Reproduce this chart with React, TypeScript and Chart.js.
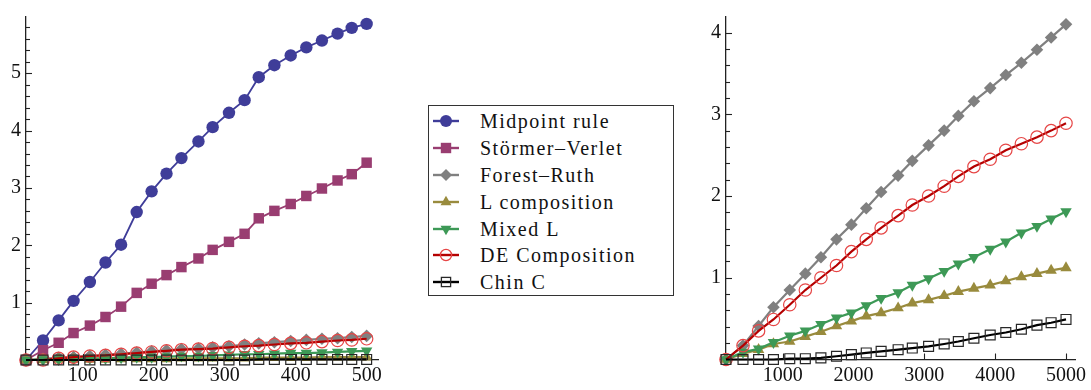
import React, { useEffect, useRef } from "react";
import { Chart, registerables } from "chart.js";
Chart.register(...registerables);

// ---------- data ----------
const LEFT_N = [20, 44, 66, 87, 110, 132, 154, 176, 197, 218, 239, 263, 283, 306, 328, 348, 370, 393, 415, 437, 459, 479, 500];
const RIGHT_N = [200, 440, 660, 870, 1100, 1320, 1540, 1760, 1970, 2180, 2390, 2630, 2830, 3060, 3280, 3480, 3700, 3930, 4150, 4370, 4590, 4790, 5000];

const LEFT_MIDPOINT = [0, 0.34, 0.69, 1.03, 1.36, 1.7, 2.01, 2.58, 2.94, 3.25, 3.52, 3.81, 4.06, 4.31, 4.53, 4.93, 5.14, 5.31, 5.45, 5.57, 5.69, 5.79, 5.86];
const LEFT_STORMER = [0, 0.17, 0.3, 0.47, 0.6, 0.75, 0.93, 1.17, 1.33, 1.48, 1.62, 1.77, 1.92, 2.06, 2.2, 2.47, 2.6, 2.72, 2.86, 2.99, 3.13, 3.24, 3.44];
const LEFT_FOREST = [0, 0.02, 0.04, 0.05, 0.07, 0.09, 0.11, 0.13, 0.15, 0.17, 0.19, 0.2, 0.22, 0.24, 0.27, 0.29, 0.31, 0.33, 0.35, 0.37, 0.38, 0.4, 0.42];
const LEFT_LCOMP = [0, 0, 0.01, 0.01, 0.01, 0.01, 0.02, 0.02, 0.02, 0.02, 0.03, 0.03, 0.03, 0.03, 0.03, 0.04, 0.04, 0.04, 0.04, 0.05, 0.05, 0.05, 0.05];
const LEFT_MIXED = [0, 0.01, 0.01, 0.02, 0.03, 0.03, 0.04, 0.05, 0.05, 0.06, 0.07, 0.07, 0.08, 0.09, 0.1, 0.1, 0.11, 0.12, 0.12, 0.13, 0.14, 0.15, 0.16];
const LEFT_DE = [0, 0, 0.03, 0.05, 0.07, 0.08, 0.1, 0.12, 0.14, 0.16, 0.18, 0.19, 0.2, 0.22, 0.24, 0.25, 0.27, 0.29, 0.3, 0.32, 0.34, 0.35, 0.37];
const LEFT_CHIN = [0, 0, 0, 0, 0, 0, 0, 0, 0, 0, 0, 0, 0, 0, 0, 0.01, 0.01, 0.01, 0.01, 0.01, 0.01, 0.01, 0.01];

const RIGHT_FOREST = [0, 0.17, 0.41, 0.64, 0.85, 1.05, 1.25, 1.47, 1.65, 1.85, 2.05, 2.25, 2.43, 2.62, 2.8, 2.98, 3.16, 3.32, 3.48, 3.63, 3.79, 3.94, 4.1];
const RIGHT_LCOMP = [0, 0.07, 0.12, 0.19, 0.22, 0.28, 0.34, 0.41, 0.47, 0.53, 0.57, 0.63, 0.69, 0.73, 0.78, 0.83, 0.87, 0.91, 0.96, 1.01, 1.05, 1.09, 1.12];
const RIGHT_MIXED = [0, 0.09, 0.13, 0.21, 0.29, 0.35, 0.43, 0.51, 0.57, 0.66, 0.75, 0.82, 0.91, 0.99, 1.08, 1.17, 1.25, 1.35, 1.44, 1.55, 1.63, 1.72, 1.81];
const RIGHT_DE = [0, 0.17, 0.35, 0.49, 0.67, 0.85, 1.0, 1.15, 1.32, 1.47, 1.61, 1.76, 1.89, 2.0, 2.12, 2.24, 2.36, 2.45, 2.56, 2.64, 2.72, 2.8, 2.89];
const RIGHT_CHIN = [0, 0, 0, 0, 0.01, 0.01, 0.02, 0.04, 0.06, 0.08, 0.1, 0.12, 0.14, 0.16, 0.19, 0.22, 0.26, 0.3, 0.33, 0.37, 0.42, 0.45, 0.49];

const SERIES_NAMES = ["Midpoint rule", "Störmer–Verlet", "Forest–Ruth", "L composition", "Mixed L", "DE Composition", "Chin C"];

const LEFT_X_TICKS = [100, 200, 300, 400, 500];
const RIGHT_X_TICKS = [1000, 2000, 3000, 4000, 5000];
const LEFT_Y_TICKS = [1, 2, 3, 4, 5];
const RIGHT_Y_TICKS = [1, 2, 3, 4];

// ---------- styles ----------
type Style = {
  line: string; lw: number; shape: string; rot: number; r: number;
  fill: string; stroke: string; bw: number;
};
const STYLES: Style[] = [
  { line: "rgb(63,61,153)", lw: 1.8, shape: "circle", rot: 0, r: 6.2, fill: "rgb(63,61,153)", stroke: "rgb(63,61,153)", bw: 0 },
  { line: "rgb(153,61,113)", lw: 1.8, shape: "rect", rot: 0, r: 7.4, fill: "rgb(153,61,113)", stroke: "rgb(153,61,113)", bw: 0 },
  { line: "rgb(128,128,128)", lw: 2.2, shape: "rectRot", rot: 0, r: 6.3, fill: "rgb(128,128,128)", stroke: "rgb(128,128,128)", bw: 0 },
  { line: "rgb(153,139,61)", lw: 2.2, shape: "triangle", rot: 0, r: 6.6, fill: "rgb(153,139,61)", stroke: "rgb(153,139,61)", bw: 0 },
  { line: "rgb(61,153,86)", lw: 2.2, shape: "triangle", rot: 180, r: 6.6, fill: "rgb(61,153,86)", stroke: "rgb(61,153,86)", bw: 0 },
  { line: "rgb(180,0,0)", lw: 2.2, shape: "circle", rot: 0, r: 6.2, fill: "rgba(0,0,0,0)", stroke: "rgb(230,70,70)", bw: 1.2 },
  { line: "rgb(0,0,0)", lw: 2.2, shape: "rect", rot: 0, r: 7, fill: "rgba(0,0,0,0)", stroke: "rgb(40,40,40)", bw: 1.2 },
];

const FONT = "'Liberation Serif', 'Times New Roman', serif";

const inwardTicks = {
  id: "inwardTicks",
  afterDraw(chart: any) {
    const { ctx, chartArea, scales } = chart;
    ctx.save();
    ctx.strokeStyle = "#222";
    ctx.lineWidth = 1.1;
    const y = scales.y;
    y.ticks.forEach((t: any) => {
      if (t.value <= 1e-9) return;
      const major = Math.abs(t.value - Math.round(t.value)) < 1e-6;
      const py = Math.round(y.getPixelForValue(t.value)) + 0.5;
      const len = major ? 6 : 4;
      ctx.beginPath();
      ctx.moveTo(chartArea.left, py);
      ctx.lineTo(chartArea.left + len, py);
      ctx.stroke();
    });
    const x = scales.x;
    x.ticks.forEach((t: any) => {
      const px = Math.round(x.getPixelForValue(t.value)) + 0.5;
      ctx.beginPath();
      ctx.moveTo(px, chartArea.bottom);
      ctx.lineTo(px, chartArea.bottom - 6);
      ctx.stroke();
    });
    ctx.restore();
  },
};

type PanelProps = {
  xs: number[]; series: { idx: number; values: number[] }[];
  xMin: number; xMax: number; yMax: number; xTicks: number[]; yTicks: number[];
  width: number; height: number; padTop: number; padRight: number; xAxisH: number; yAxisW: number;
};

function Panel(p: PanelProps) {
  const ref = useRef<HTMLCanvasElement>(null);
  useEffect(() => {
    if (!ref.current) return;
    const datasets = p.series.map((s) => {
      const st = STYLES[s.idx];
      return {
        label: SERIES_NAMES[s.idx],
        data: p.xs.map((x, j) => ({ x, y: s.values[j] })),
        borderColor: st.line,
        borderWidth: st.lw,
        backgroundColor: st.fill,
        pointStyle: st.shape,
        pointRotation: st.rot,
        pointRadius: st.r,
        pointBackgroundColor: st.fill,
        pointBorderColor: st.stroke,
        pointBorderWidth: st.bw,
        tension: 0,
        clip: false,
        order: 10 - s.idx,
      };
    });
    const chart = new Chart(ref.current, {
      type: "line",
      data: { datasets } as any,
      options: {
        animation: false,
        responsive: false,
        layout: { padding: { left: 0, top: p.padTop, right: p.padRight, bottom: 0 } },
        plugins: { legend: { display: false }, tooltip: { enabled: false } },
        scales: {
          x: {
            type: "linear",
            min: p.xMin,
            max: p.xMax,
            grid: { display: false, drawTicks: false },
            border: { display: true, color: "#222", width: 1.3 },
            afterBuildTicks: (s: any) => { s.ticks = p.xTicks.map((v) => ({ value: v })); },
            afterFit: (s: any) => { s.height = p.xAxisH; },
            ticks: {
              autoSkip: false, maxRotation: 0, padding: 4, color: "#111",
              font: { family: FONT, size: 20 },
              callback: (v: any) => String(v),
            },
          },
          y: {
            type: "linear",
            min: 0,
            max: p.yMax,
            grid: { display: false, drawTicks: false },
            border: { display: true, color: "#222", width: 1.3 },
            afterBuildTicks: (s: any) => {
              const t: any[] = [];
              for (let k = 1; k * 0.2 <= p.yMax + 1e-9; k++) t.push({ value: Math.round(k * 2) / 10 });
              s.ticks = t;
            },
            afterFit: (s: any) => { s.width = p.yAxisW; },
            ticks: {
              autoSkip: false, padding: 5, color: "#111",
              font: { family: FONT, size: 20 },
              callback: (v: any) => (p.yTicks.includes(Number(v)) ? String(v) : ""),
            },
          },
        },
      } as any,
      plugins: [inwardTicks],
    });
    return () => chart.destroy();
  }, []);
  return <canvas ref={ref} width={p.width} height={p.height} style={{ width: p.width, height: p.height, display: "block" }} />;
}

function LegendIcon({ idx }: { idx: number }) {
  const st = STYLES[idx];
  const cx = 14, cy = 8;
  let marker: React.ReactNode = null;
  if (st.shape === "circle") {
    marker = <circle cx={cx} cy={cy} r={st.bw ? 5.6 : 6} fill={st.bw ? "none" : st.fill} stroke={st.bw ? st.stroke : "none"} strokeWidth={st.bw ? 1.3 : 0} />;
  } else if (st.shape === "rect") {
    const h = st.bw ? 4.6 : 5.2;
    marker = <rect x={cx - h} y={cy - h} width={2 * h} height={2 * h} fill={st.bw ? "none" : st.fill} stroke={st.bw ? st.stroke : "none"} strokeWidth={st.bw ? 1.3 : 0} />;
  } else if (st.shape === "rectRot") {
    const r = 6;
    marker = <polygon points={`${cx - r},${cy} ${cx},${cy - r} ${cx + r},${cy} ${cx},${cy + r}`} fill={st.fill} />;
  } else if (st.shape === "triangle") {
    const r = 6.3;
    const s = st.rot === 180 ? -1 : 1;
    marker = <polygon points={`${cx},${cy - s * r} ${cx + r * 0.866},${cy + s * r * 0.5} ${cx - r * 0.866},${cy + s * r * 0.5}`} fill={st.fill} />;
  }
  return (
    <svg width={28} height={16} style={{ display: "block" }}>
      <line x1={1} y1={cy} x2={27} y2={cy} stroke={st.line} strokeWidth={2.4} />
      {marker}
    </svg>
  );
}

export default function App() {
  const leftSeries = [
    { idx: 0, values: LEFT_MIDPOINT },
    { idx: 1, values: LEFT_STORMER },
    { idx: 2, values: LEFT_FOREST },
    { idx: 3, values: LEFT_LCOMP },
    { idx: 4, values: LEFT_MIXED },
    { idx: 5, values: LEFT_DE },
    { idx: 6, values: LEFT_CHIN },
  ];
  const rightSeries = [
    { idx: 2, values: RIGHT_FOREST },
    { idx: 3, values: RIGHT_LCOMP },
    { idx: 4, values: RIGHT_MIXED },
    { idx: 5, values: RIGHT_DE },
    { idx: 6, values: RIGHT_CHIN },
  ];
  return (
    <div style={{ position: "absolute", left: 0, top: 0, width: 1091, height: 390, background: "#fff", overflow: "hidden" }}>
      <div style={{ position: "absolute", left: 0, top: 0 }}>
        <Panel xs={LEFT_N} series={leftSeries} xMin={20} xMax={516} yMax={5.98} xTicks={LEFT_X_TICKS} yTicks={LEFT_Y_TICKS}
          width={392} height={390} padTop={11} padRight={14} xAxisH={30} yAxisW={26} />
      </div>
      <div style={{ position: "absolute", left: 700, top: 0 }}>
        <Panel xs={RIGHT_N} series={rightSeries} xMin={200} xMax={5127} yMax={4.19} xTicks={RIGHT_X_TICKS} yTicks={RIGHT_Y_TICKS}
          width={391} height={390} padTop={11} padRight={16} xAxisH={30.5} yAxisW={26} />
      </div>
      <div style={{
        position: "absolute", left: 428, top: 105, width: 246, height: 191, border: "1px solid #333",
        boxSizing: "border-box", paddingTop: 2, fontFamily: FONT, fontSize: 20, letterSpacing: "1.5px", color: "#111",
      }}>
        {SERIES_NAMES.map((name, i) => (
          <div key={name} style={{ display: "flex", alignItems: "center", height: 26.8 }}>
            <div style={{ width: 3 }} />
            <LegendIcon idx={i} />
            <div style={{ width: 20 }} />
            <span style={{ whiteSpace: "nowrap", lineHeight: "26px" }}>{name}</span>
          </div>
        ))}
      </div>
    </div>
  );
}
